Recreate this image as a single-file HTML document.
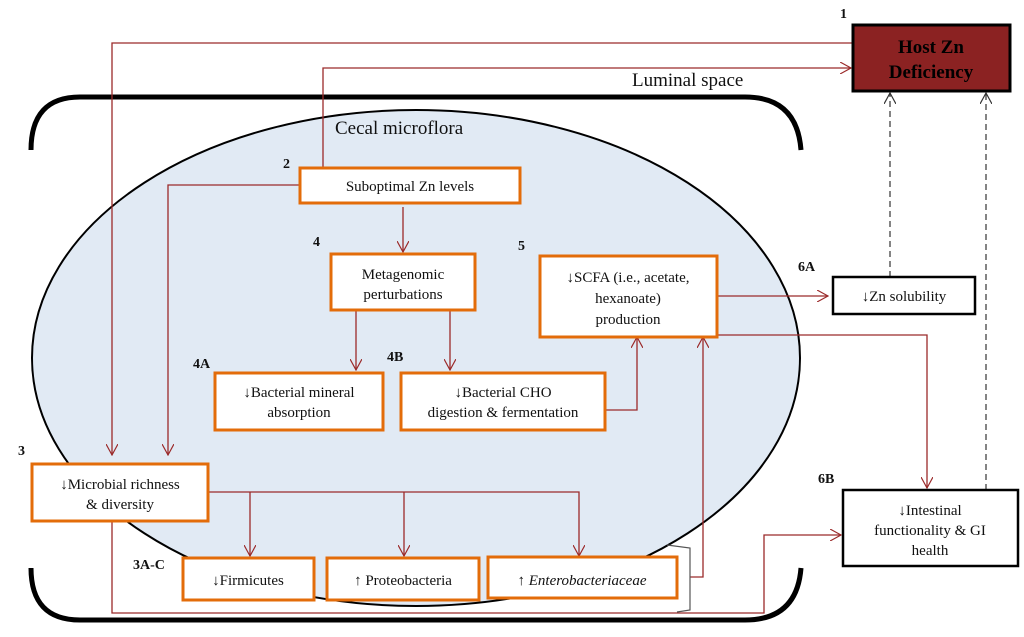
<!DOCTYPE html>
<html><head><meta charset="utf-8"><style>
html,body{margin:0;padding:0;background:#fff;}
svg{display:block}
text{font-family:"Liberation Serif",serif;fill:#111;}
</style></head><body>
<svg width="1024" height="637" viewBox="0 0 1024 637" xmlns="http://www.w3.org/2000/svg">
<defs>
<marker id="a" viewBox="0 0 12 12" refX="11" refY="6" markerWidth="12" markerHeight="12" markerUnits="userSpaceOnUse" orient="auto"><path d="M0,0 L11,6 L0,12" fill="none" stroke="#9b2a2a" stroke-width="1.2"/></marker>
<marker id="k" viewBox="0 0 12 12" refX="11" refY="6" markerWidth="12" markerHeight="12" markerUnits="userSpaceOnUse" orient="auto"><path d="M0,0 L11,6 L0,12" fill="none" stroke="#333" stroke-width="1.2"/></marker>
</defs>
<!-- ellipse -->
<ellipse cx="416" cy="358" rx="384" ry="248" fill="#e1eaf4" stroke="#000" stroke-width="2"/>
<!-- brackets -->
<path d="M31,150 Q31,97 80,97 L745,97 Q797,97 801,150" fill="none" stroke="#000" stroke-width="5"/>
<path d="M31,568 Q31,620 80,620 L745,620 Q797,620 801,568" fill="none" stroke="#000" stroke-width="5"/>
<text x="632" y="86" font-size="19">Luminal space</text>
<text x="335" y="134" font-size="19">Cecal microflora</text>
<g fill="none" stroke="#9b2a2a" stroke-width="1.3">
<path d="M853,43 L112,43 L112,455" marker-end="url(#a)"/>
<path d="M323,168 L323,68 L851,68" marker-end="url(#a)"/>
<path d="M300,185 L168,185 L168,455" marker-end="url(#a)"/>
<path d="M403,207 L403,252" marker-end="url(#a)"/>
<path d="M717,296 L828,296" marker-end="url(#a)"/>
<path d="M717,335 L927,335 L927,488" marker-end="url(#a)"/>
<path d="M356,310 L356,370" marker-end="url(#a)"/>
<path d="M450,310 L450,370" marker-end="url(#a)"/>
<path d="M605,410 L637,410 L637,337" marker-end="url(#a)"/>
<path d="M690,577 L703,577 L703,337" marker-end="url(#a)"/>
<path d="M208,492 L579,492 L579,556" marker-end="url(#a)"/>
<path d="M250,492 L250,556" marker-end="url(#a)"/>
<path d="M404,492 L404,556" marker-end="url(#a)"/>
<path d="M112,521 L112,613 L764,613 L764,535 L841,535" marker-end="url(#a)"/>
</g>
<g fill="none" stroke="#333" stroke-width="1.2" stroke-dasharray="6,4">
<path d="M890,277 L890,93" marker-end="url(#k)"/>
<path d="M986,490 L986,93" marker-end="url(#k)"/>
</g>
<path d="M667,545 L690,548 L690,610 L677,612" fill="none" stroke="#555" stroke-width="1.2"/>
<!-- host box -->
<rect x="853" y="25" width="157" height="66" fill="#8b2222" stroke="#000" stroke-width="3"/>
<text x="931" y="53" font-size="19" font-weight="bold" text-anchor="middle" style="fill:#000">Host Zn</text>
<text x="931" y="78" font-size="19" font-weight="bold" text-anchor="middle" style="fill:#000">Deficiency</text>
<g fill="#fff" stroke="#e36c0a" stroke-width="3">
<rect x="300" y="168" width="220" height="35"/>
<rect x="331" y="254" width="144" height="56"/>
<rect x="540" y="256" width="177" height="81"/>
<rect x="215" y="373" width="168" height="57"/>
<rect x="401" y="373" width="204" height="57"/>
<rect x="32" y="464" width="176" height="57"/>
<rect x="183" y="558" width="131" height="42"/>
<rect x="327" y="558" width="152" height="42"/>
<rect x="488" y="557" width="189" height="41"/>
</g>
<g fill="#fff" stroke="#000" stroke-width="2.5">
<rect x="833" y="277" width="142" height="37"/>
<rect x="843" y="490" width="175" height="76"/>
</g>
<g font-size="15" text-anchor="middle">
<text x="410" y="191">Suboptimal Zn levels</text>
<text x="403" y="279">Metagenomic</text>
<text x="403" y="299">perturbations</text>
<text x="628" y="282">↓SCFA (i.e., acetate,</text>
<text x="628" y="303">hexanoate)</text>
<text x="628" y="324">production</text>
<text x="904" y="301">↓Zn solubility</text>
<text x="299" y="397">↓Bacterial mineral</text>
<text x="299" y="417">absorption</text>
<text x="503" y="397">↓Bacterial CHO</text>
<text x="503" y="417">digestion &amp; fermentation</text>
<text x="120" y="489">↓Microbial richness</text>
<text x="120" y="509">&amp; diversity</text>
<text x="248" y="585">↓Firmicutes</text>
<text x="403" y="585">↑ Proteobacteria</text>
<text x="582" y="585">↑ <tspan font-style="italic">Enterobacteriaceae</tspan></text>
<text x="930" y="515">↓Intestinal</text>
<text x="930" y="535">functionality &amp; GI</text>
<text x="930" y="555">health</text>
</g>
<g font-size="14" font-weight="bold">
<text x="840" y="18">1</text>
<text x="283" y="168">2</text>
<text x="313" y="246">4</text>
<text x="518" y="250">5</text>
<text x="798" y="271">6A</text>
<text x="193" y="368">4A</text>
<text x="387" y="361">4B</text>
<text x="18" y="455">3</text>
<text x="818" y="483">6B</text>
<text x="133" y="569">3A-C</text>
</g>
</svg>
</body></html>
